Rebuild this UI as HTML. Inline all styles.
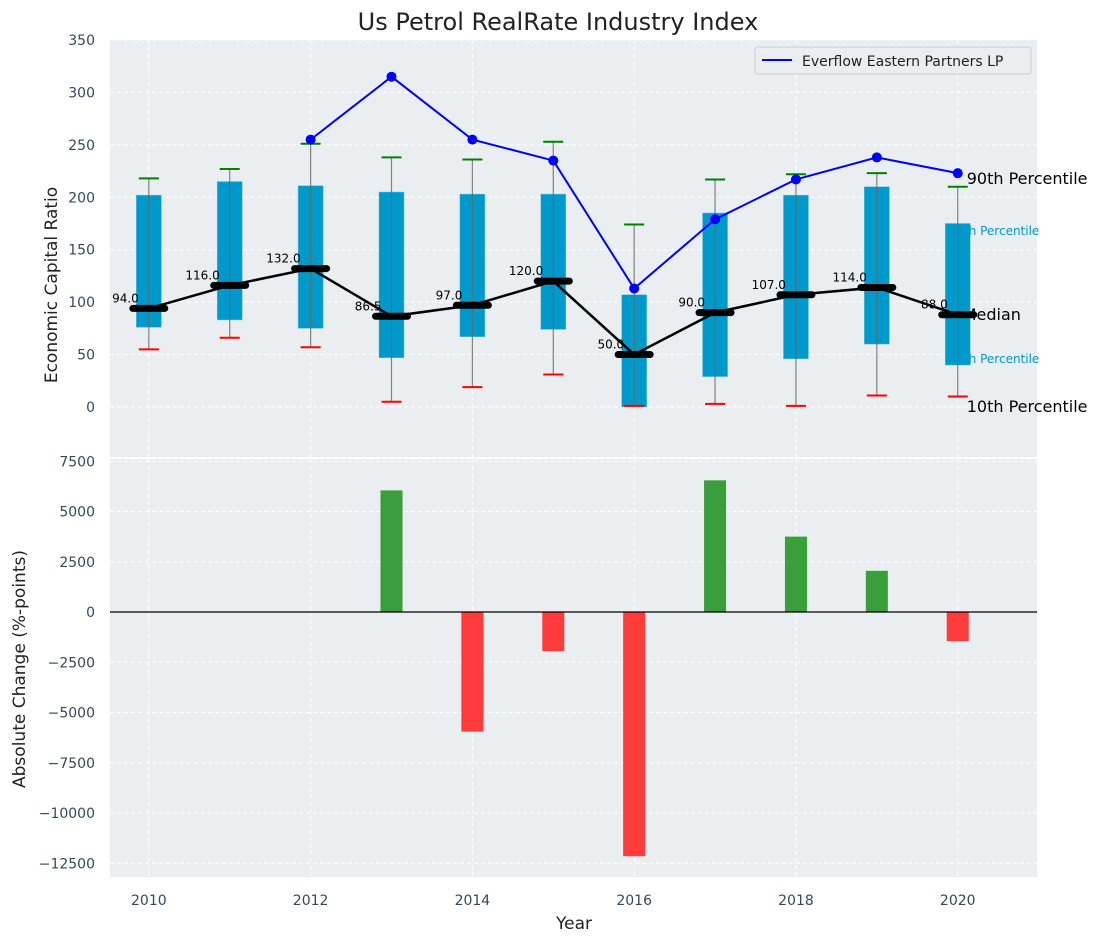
<!DOCTYPE html>
<html><head><meta charset="utf-8"><style>
body{margin:0;background:#fff;font-family:"Liberation Sans","DejaVu Sans",sans-serif}
svg text{font-family:"DejaVu Sans","Liberation Sans",sans-serif}
</style></head><body>
<svg id="c" width="1102" height="942" xmlns="http://www.w3.org/2000/svg"></svg>
<script>
const years=[2010,2011,2012,2013,2014,2015,2016,2017,2018,2019,2020];
const p10=[55,66,57,5,19,31,1,3,1,11,10];
const q1=[76,83,75,47,67,74,0,29,46,60,40];
const med=[94,116,132,86.5,97,120,50,90,107,114,88];
const q3=[202,215,211,205,203,203,107,185,202,210,175];
const p90=[218,227,251,238,236,253,174,217,222,223,210];
const lineYears=[2012,2013,2014,2015,2016,2017,2018,2019,2020];
const lineVals=[255,315,255,235,113,179,217,238,223];
const chgYears=[2013,2014,2015,2016,2017,2018,2019,2020];
const chgVals=[6050,-5950,-1950,-12150,6550,3750,2050,-1450];
const topTicks=[0,50,100,150,200,250,300,350];
const botTicks=[-12500,-10000,-7500,-5000,-2500,0,2500,5000,7500];
const xTicks=[2010,2012,2014,2016,2018,2020];

const NS="http://www.w3.org/2000/svg",svg=document.getElementById('c');
function el(t,a,p){const e=document.createElementNS(NS,t);for(const k in a)e.setAttribute(k,a[k]);(p||svg).appendChild(e);return e;}
const L=110,R=1037;
const X=v=>L+(v-2009.52)*(R-L)/(2020.98-2009.52);
const T0=40,T1=457,topMin=-47.7,topMax=350;
const YT=v=>T1-(v-topMin)*(T1-T0)/(topMax-topMin);
const B0=459,B1=877,botMin=-13184,botMax=7612;
const YB=v=>B1-(v-botMin)*(B1-B0)/(botMax-botMin);

function txt(x,y,s,a){const t=el('text',Object.assign({x:x,y:y},a));t.textContent=s;return t;}
let bg=el('rect',{x:L,y:T0,width:R-L,height:T1-T0,fill:'#eaeef0'});

let bg2=el('rect',{x:L,y:B0,width:R-L,height:B1-B0,fill:'#eaeef0'});

xTicks.forEach(v=>{
  el('line',{x1:X(v),x2:X(v),y1:T0,y2:T1,stroke:'#fff','stroke-dasharray':'4,3','stroke-width':1});
  el('line',{x1:X(v),x2:X(v),y1:B0,y2:B1,stroke:'#fff','stroke-dasharray':'4,3','stroke-width':1});
  const t=txt(X(v),905,String(v),{'text-anchor':'middle','font-size':14,fill:'#34495e'});
  
});
topTicks.forEach(v=>{
  el('line',{x1:L,x2:R,y1:YT(v),y2:YT(v),stroke:'#fff','stroke-dasharray':'4,3'});
  const t=txt(95,YT(v)+5,String(v),{'text-anchor':'end','font-size':14,fill:'#34495e'});
  
});
botTicks.forEach(v=>{
  el('line',{x1:L,x2:R,y1:YB(v),y2:YB(v),stroke:'#fff','stroke-dasharray':'4,3'});
  const t=txt(95,YB(v)+5,String(v).replace('-','\u2212'),{'text-anchor':'end','font-size':14,fill:'#34495e'});
  
});
const lx=X(2020)+9;
[['90th Percentile',16,'#000',lx,184],['75th Percentile',12,'#0099cc',lx-18,235],['Median',16,'#000',lx-4,320],['25th Percentile',12,'#0099cc',lx-18,363],['10th Percentile',16,'#000',lx,412]].forEach(d=>{
  const t=txt(d[3],d[4],d[0],{'font-size':d[1],fill:d[2]});
  
});
years.forEach((y,i)=>{
  const cx=X(y),w=25;
  const b=el('rect',{x:cx-w/2,y:YT(q3[i]),width:w,height:YT(q1[i])-YT(q3[i]),fill:'#0099cc',stroke:'#5bc0de','stroke-width':0.5});
  
  const wl=el('line',{x1:cx,x2:cx,y1:YT(p90[i]),y2:YT(p10[i]),stroke:'#666','stroke-width':1.2,opacity:0.8});
  
  const tc=el('line',{x1:cx-10,x2:cx+10,y1:YT(p90[i]),y2:YT(p90[i]),stroke:'green','stroke-width':2});
  
  const bc=el('line',{x1:cx-10,x2:cx+10,y1:YT(p10[i]),y2:YT(p10[i]),stroke:'red','stroke-width':2});
  
});
const mp=el('polyline',{points:years.map((y,i)=>X(y)+','+YT(med[i])).join(' '),fill:'none',stroke:'#000','stroke-width':2.5});

years.forEach((y,i)=>{
  const m=el('line',{x1:X(y)-16,x2:X(y)+16,y1:YT(med[i]),y2:YT(med[i]),stroke:'#000','stroke-width':7,'stroke-linecap':'round'});
  
  const t=txt(X(y)-10,YT(med[i])-6,med[i].toFixed(1),{'text-anchor':'end','font-size':12,fill:'#000'});
  
});
const bl=el('polyline',{points:lineYears.map((y,i)=>X(y)+','+YT(lineVals[i])).join(' '),fill:'none',stroke:'blue','stroke-width':2});

lineYears.forEach((y,i)=>{
  const c=el('circle',{cx:X(y),cy:YT(lineVals[i]),r:5,fill:'blue'});
  
});
const lg=el('g',{});

el('rect',{x:755,y:47,width:276,height:27,rx:3,fill:'#eaeef0',stroke:'#ccc'},lg);
el('line',{x1:762,x2:792,y1:60,y2:60,stroke:'blue','stroke-width':2},lg);
txt(802,66,'Everflow Eastern Partners LP',{'font-size':14,fill:'#222'},lg);
chgYears.forEach((y,i)=>{
  const v=chgVals[i],w=22;
  const r=el('rect',{x:X(y)-w/2,y:Math.min(YB(v),YB(0)),width:w,height:Math.abs(YB(v)-YB(0)),fill:v>=0?'#3a9e3a':'#ff3b3b'});
  
});
el('line',{x1:L,x2:R,y1:YB(0),y2:YB(0),stroke:'#000','stroke-width':1.2});
let t=txt(558,30,'Us Petrol RealRate Industry Index',{'text-anchor':'middle','font-size':24,fill:'#222'});

t=txt(574,929,'Year',{'text-anchor':'middle','font-size':17,fill:'#222'});

t=txt(0,0,'Economic Capital Ratio',{'text-anchor':'middle','font-size':17,fill:'#222',transform:'translate(57,285) rotate(-90)'});

t=txt(0,0,'Absolute Change (%-points)',{'text-anchor':'middle','font-size':17,fill:'#222',transform:'translate(25,669) rotate(-90)'});

</script>
</body></html>
